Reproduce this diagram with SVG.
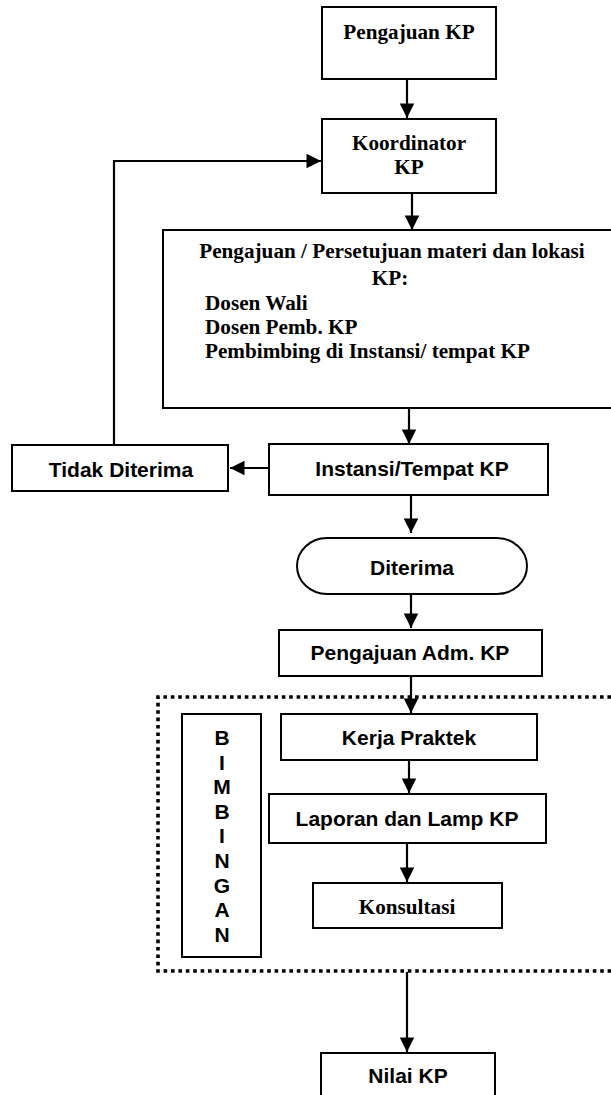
<svg xmlns="http://www.w3.org/2000/svg" width="611" height="1095" viewBox="0 0 611 1095">
<style>
.box{fill:#fff;stroke:#000;stroke-width:2}
.ts{font-family:"Liberation Serif","Times New Roman",serif;font-weight:bold;font-size:21.2px;fill:#000}
.ta{font-family:"Liberation Sans",Arial,sans-serif;font-weight:bold;font-size:21px;fill:#000}
.c{text-anchor:middle}
.ln{fill:none;stroke:#000;stroke-width:2.2}
.dot{fill:none;stroke:#000;stroke-width:3.6;stroke-dasharray:3.6 3.8}
</style>
<defs>
<marker id="ah" viewBox="0 0 10 10" refX="10" refY="5" markerWidth="6.6" markerHeight="6.6" markerUnits="strokeWidth" orient="auto">
<path d="M0,0 L10,5 L0,10 Z" fill="#000"/>
</marker>
</defs>
<g id="bimbingan-region">
<path class="dot" d="M611,697 H158 V971 H611"/>
</g>
<g id="connectors">
<line class="ln" x1="407" y1="79" x2="407" y2="118" marker-end="url(#ah)"/>
<line class="ln" x1="412" y1="193" x2="412" y2="230" marker-end="url(#ah)"/>
<line class="ln" x1="409" y1="408" x2="409" y2="444" marker-end="url(#ah)"/>
<line class="ln" x1="269" y1="468" x2="230" y2="468" marker-end="url(#ah)"/>
<path class="ln" d="M114,445 V161 H321" marker-end="url(#ah)"/>
<line class="ln" x1="411" y1="495" x2="411" y2="533" marker-end="url(#ah)"/>
<line class="ln" x1="411" y1="594" x2="411" y2="628" marker-end="url(#ah)"/>
<line class="ln" x1="411" y1="676" x2="411" y2="713" marker-end="url(#ah)"/>
<line class="ln" x1="409" y1="760" x2="409" y2="793" marker-end="url(#ah)"/>
<line class="ln" x1="407" y1="843" x2="407" y2="882" marker-end="url(#ah)"/>
<line class="ln" x1="407" y1="972" x2="407" y2="1052" marker-end="url(#ah)"/>
</g>
<g id="pengajuan-kp">
<rect class="box" x="322" y="7" width="174" height="72"/>
<text class="ts c" x="409" y="39">Pengajuan KP</text>
</g>
<g id="koordinator-kp">
<rect class="box" x="322" y="119" width="174" height="74"/>
<text class="ts c" x="409" y="150">Koordinator</text>
<text class="ts c" x="409" y="174">KP</text>
</g>
<g id="pengajuan-persetujuan">
<rect class="box" x="163" y="230" width="460" height="178"/>
<text class="ts c" x="392" y="258">Pengajuan / Persetujuan materi dan lokasi</text>
<text class="ts c" x="390" y="285">KP:</text>
<text class="ts" x="205" y="310">Dosen Wali</text>
<text class="ts" x="205" y="334">Dosen Pemb. KP</text>
<text class="ts" x="205" y="358">Pembimbing di Instansi/ tempat KP</text>
</g>
<g id="tidak-diterima">
<rect class="box" x="12" y="445" width="216" height="46"/>
<text class="ta c" x="121" y="477">Tidak Diterima</text>
</g>
<g id="instansi">
<rect class="box" x="269" y="444" width="279" height="51"/>
<text class="ta c" x="412" y="476">Instansi/Tempat KP</text>
</g>
<g id="diterima">
<rect class="box" x="297" y="538" width="230" height="56" rx="30" ry="28"/>
<text class="ta c" x="412" y="575">Diterima</text>
</g>
<g id="pengajuan-adm">
<rect class="box" x="279" y="630" width="263" height="46"/>
<text class="ta c" x="410" y="660">Pengajuan Adm. KP</text>
</g>
<g id="bimbingan">
<rect class="box" x="182" y="714" width="79" height="243"/>
<text class="ta c" x="222" y="745">B</text>
<text class="ta c" x="222" y="770">I</text>
<text class="ta c" x="222" y="794">M</text>
<text class="ta c" x="222" y="819">B</text>
<text class="ta c" x="222" y="843">I</text>
<text class="ta c" x="222" y="868">N</text>
<text class="ta c" x="222" y="893">G</text>
<text class="ta c" x="222" y="917">A</text>
<text class="ta c" x="222" y="942">N</text>
</g>
<g id="kerja-praktek">
<rect class="box" x="281" y="714" width="256" height="46"/>
<text class="ta c" x="409" y="745">Kerja Praktek</text>
</g>
<g id="laporan">
<rect class="box" x="269" y="794" width="277" height="49"/>
<text class="ta c" x="407" y="826">Laporan dan Lamp KP</text>
</g>
<g id="konsultasi">
<rect class="box" x="313" y="883" width="189" height="45"/>
<text class="ts c" x="407" y="914">Konsultasi</text>
</g>
<g id="nilai-kp">
<rect class="box" x="321" y="1053" width="174" height="50"/>
<text class="ta c" x="408" y="1083">Nilai KP</text>
</g>
</svg>
